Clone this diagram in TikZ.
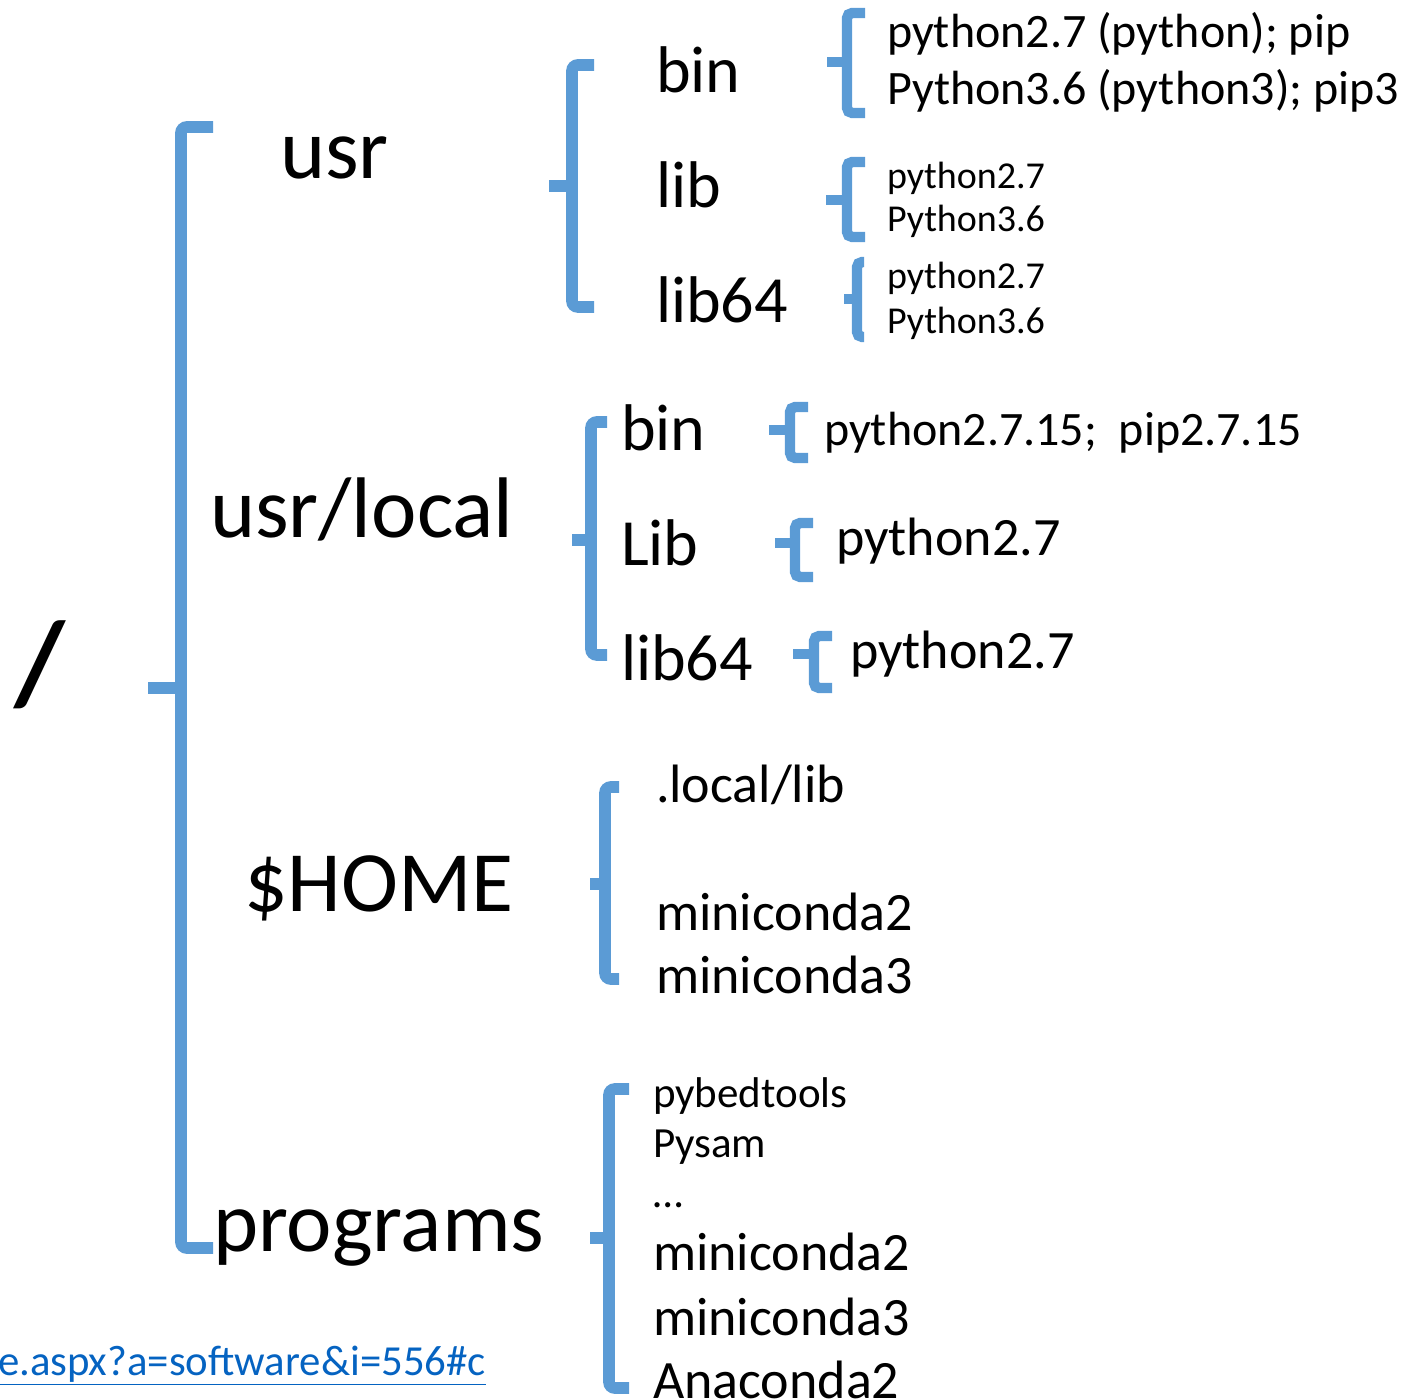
\documentclass[tikz,border=0pt]{standalone}
\usepackage{fontspec}
\setmainfont{Carlito}
\definecolor{bracecol}{HTML}{5B9BD5}
\definecolor{linkcol}{HTML}{0563C1}
\tikzset{
  bracebig/.style={draw=bracecol, line width=5.8pt, rounded corners=2.9pt},
  bracesmall/.style={draw=bracecol, line width=5.2pt, rounded corners=2.6pt},
  lbl/.style={anchor=base west, inner sep=0pt, outer sep=0pt, text=black},
  rootlbl/.style={lbl, font=\fontsize{59}{59}\selectfont\bfseries},
  biglbl/.style={lbl, font=\fontsize{43}{43}\selectfont},
  midlbl/.style={lbl, font=\fontsize{33}{33}\selectfont},
  sublbl/.style={lbl, font=\fontsize{27}{27}\selectfont},
  verlbl/.style={lbl, font=\fontsize{24}{24}\selectfont},
  pkglbl/.style={lbl, font=\fontsize{21.5}{21.5}\selectfont},
  smalllbl/.style={lbl, font=\fontsize{19}{19}\selectfont},
  linklbl/.style={lbl, text=linkcol, font=\fontsize{21.4}{21.4}\selectfont},
}
% #1 style, #2 x of vertical, #3 y top, #4 y mid, #5 y bottom, #6 x right ends, #7 x left of tick
\newcommand\drawbrkt[7]{%
  \draw[#1] (#6,#3) -- (#2,#3) -- (#2,#5) -- (#6,#5);
  \draw[#1, rounded corners=0pt] (#7,#4) -- (#2,#4);
}
\begin{document}
\begin{tikzpicture}[x=0.5pt,y=-0.5pt]
\useasboundingbox (0,0) rectangle (1408,1400);
\clip (0,0) rectangle (1408,1400);

% braces
\drawbrkt{bracebig}{181}{127}{688}{1248}{213}{148}
\drawbrkt{bracebig}{572}{65}{186}{307}{594}{549}
\drawbrkt{bracesmall}{847}{13}{62}{113}{865}{827}
\drawbrkt{bracesmall}{847}{162}{200}{237}{865}{826}
\drawbrkt{bracesmall}{857}{262}{299}{337}{864}{844}
\drawbrkt{bracebig}{591}{422}{540}{655}{607}{572}
\drawbrkt{bracesmall}{790}{407}{430}{458}{808}{769}
\drawbrkt{bracesmall}{795}{523}{543}{577}{813}{775}
\drawbrkt{bracesmall}{814}{636}{654}{688}{832}{793}
\drawbrkt{bracebig}{605}{787}{884}{979}{619}{590}
\drawbrkt{bracebig}{609}{1089}{1238}{1388}{629}{590}

% root
\node[rootlbl] (root) at (14,704) {/};

% level 1
\node[biglbl] (usr) at (280,179) {usr};
\node[biglbl] (usrlocal) at (210,538) {usr/local};
\node[biglbl] (home) at (244,911) {\$HOME};
\node[biglbl] (programs) at (213,1251) {programs};

% usr children
\node[midlbl] (ubin) at (656,93) {bin};
\node[midlbl] (ulib) at (656,208) {lib};
\node[midlbl] (ulib64) at (656,323) {lib64};

\node[verlbl] (ubinA) at (887,48) {python2.7 (python); pip};
\node[verlbl] (ubinB) at (887,105) {Python3.6 (python3); pip3};
\node[smalllbl] (ulibA) at (887,189) {python2.7};
\node[smalllbl] (ulibB) at (887,232) {Python3.6};
\node[smalllbl] (ulib64A) at (887,289) {python2.7};
\node[smalllbl] (ulib64B) at (887,334) {Python3.6};

% usr/local children
\node[midlbl] (lbin) at (621,451) {bin};
\node[midlbl] (llib) at (621,566) {Lib};
\node[midlbl] (llib64) at (621,681) {lib64};

\node[verlbl] (lbinA) at (824,446) {python2.7.15;\ \ pip2.7.15};
\node[sublbl] (llibA) at (836,556) {python2.7};
\node[sublbl] (llib64A) at (850,669) {python2.7};

% $HOME children
\node[sublbl] (hlocal) at (656,802) {.local/lib};
\node[sublbl] (hmc2) at (656,930) {miniconda2};
\node[sublbl] (hmc3) at (656,993) {miniconda3};

% programs children
\node[pkglbl] (pbed) at (653,1107) {pybedtools};
\node[pkglbl] (psam) at (653,1157) {Pysam};
\node[pkglbl] (pdots) at (653,1207) {…};
\node[sublbl] (pmc2) at (653,1270) {miniconda2};
\node[sublbl] (pmc3) at (653,1335) {miniconda3};
\node[sublbl] (pana) at (653,1398) {Anaconda2};

% link fragment
\node[linklbl] (link) at (-2,1375) {\underline{e.aspx?a=software\&i=556\#c}};
\end{tikzpicture}
\end{document}
